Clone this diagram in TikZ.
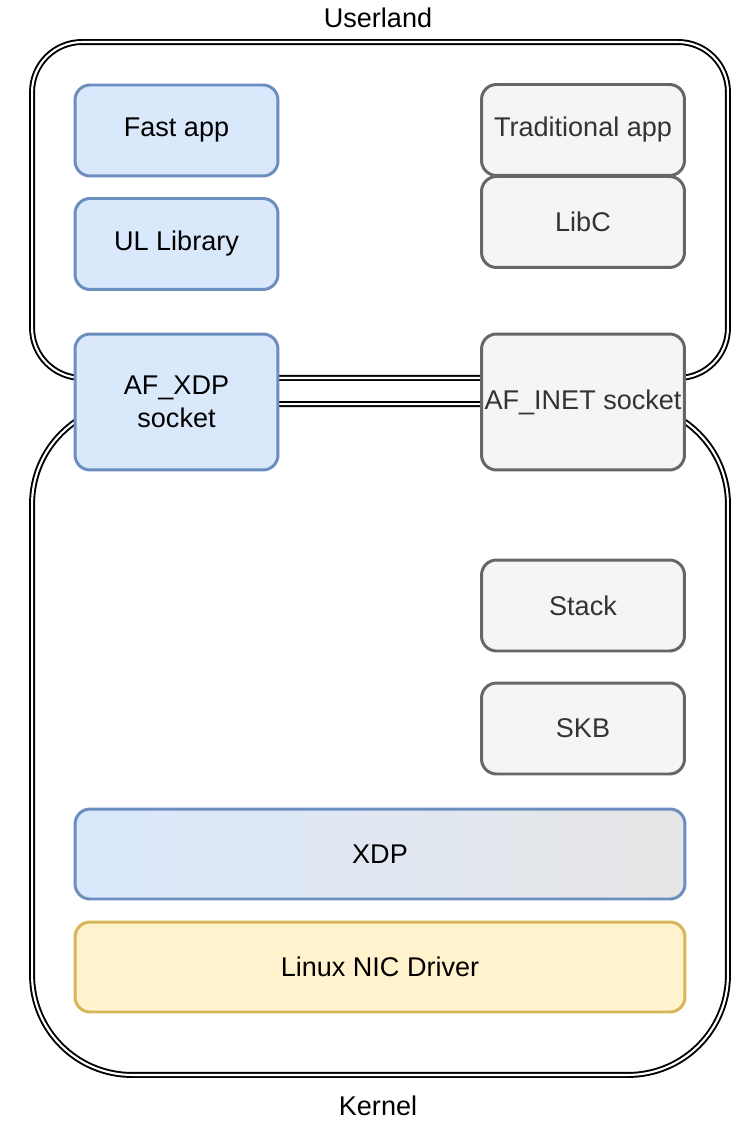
\documentclass[tikz,border=0pt]{standalone}
\usepackage{fontspec}
\setmainfont{Liberation Sans}
\usetikzlibrary{positioning,shapes}

\definecolor{blueFill}{HTML}{DAE8FC}
\definecolor{blueLine}{HTML}{6C8EBF}
\definecolor{grayFill}{HTML}{F5F5F5}
\definecolor{grayLine}{HTML}{666666}
\definecolor{grayText}{HTML}{333333}
\definecolor{yellowFill}{HTML}{FFF2CC}
\definecolor{yellowLine}{HTML}{D6B656}
\definecolor{xdpRight}{HTML}{E6E6E6}

\begin{document}
\begin{tikzpicture}[x=0.02cm, y=-0.02cm,
  every node/.style={font=\fontsize{15.4}{19}\selectfont}]
\tikzstyle{layer} = [rectangle, rounded corners=0.3cm, line width=1.7pt, align=center]
\tikzstyle{fastbox} = [layer, draw=blueLine, fill=blueFill, text=black]
\tikzstyle{tradbox} = [layer, draw=grayLine, fill=grayFill, text=grayText]
\tikzstyle{small} = [minimum width=4.06cm, minimum height=1.82cm]
\tikzstyle{sock} = [minimum width=4.06cm, minimum height=2.72cm]
\tikzstyle{wide} = [minimum width=12.2cm, minimum height=1.8cm]
\tikzstyle{ring} = [draw, double, line width=1.1pt, double distance=1.2pt,
  minimum width=13.92cm]

\useasboundingbox (0,0) rectangle (736,1121);

% the two spaces
\node[ring, rounded corners=1cm, minimum height=6.72cm] (userland) at (380,210) {};
\node[ring, rounded corners=2cm, minimum height=13.42cm] (kernel) at (380,739.5) {};
\node (ultitle) at (378,18) {Userland};
\node (ktitle) at (378,1106) {Kernel};

% fast path
\node[fastbox, small] (fastapp) at (176.5,130.5) {Fast app};
\node[fastbox, small] (ullib) at (176.5,244) {UL Library};
\node[fastbox, sock] (afxdp) at (176.5,402) {AF\_XDP\\socket};

% traditional path
\node[tradbox, small] (tradapp) at (583,130) {Traditional app};
\node[tradbox, small] (libc) at (583,222) {LibC};
\node[tradbox, sock, inner xsep=0pt] (afinet) at (583,402) {AF\_INET socket};
\node[tradbox, small] (stack) at (583,605.5) {Stack};
\node[tradbox, small] (skb) at (583,728.5) {SKB};

% shared layers
\node[layer, wide, draw=blueLine, left color=blueFill, right color=xdpRight]
  (xdp) at (380,854) {XDP};
\node[layer, wide, draw=yellowLine, fill=yellowFill] (nic) at (380,967) {Linux NIC Driver};
\end{tikzpicture}
\end{document}
